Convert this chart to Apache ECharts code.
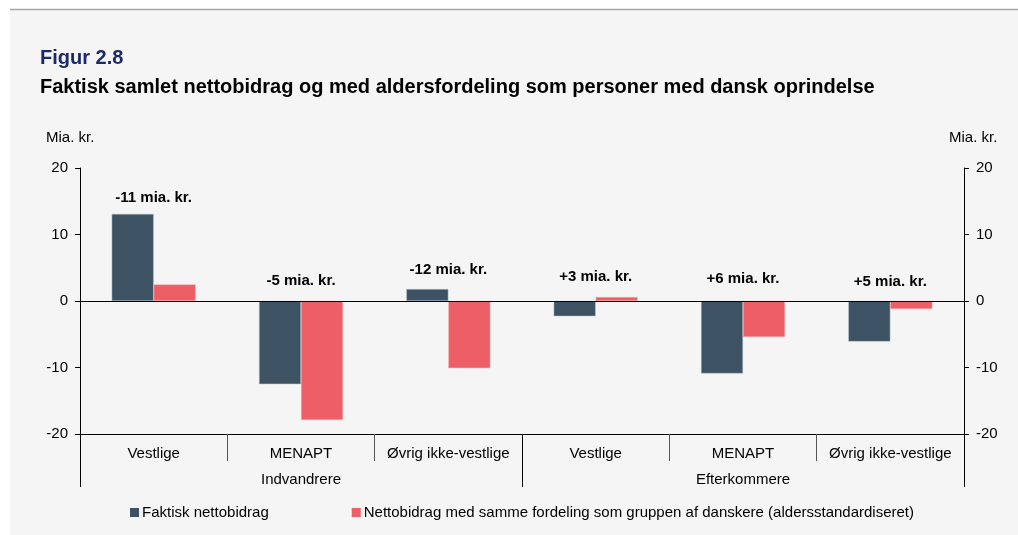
<!DOCTYPE html>
<html>
<head>
<meta charset="utf-8">
<script src="https://cdn.jsdelivr.net/npm/echarts@6/dist/echarts.min.js"></script>
<style>
html, body { margin: 0; padding: 0; background: #ffffff; }
#chart { width: 1018px; height: 535px; }
</style>
</head>
<body>
<div id="chart"></div>
<script>
// kategorier
var categories = ['Vestlige', 'MENAPT', 'Øvrig ikke-vestlige', 'Vestlige', 'MENAPT', 'Øvrig ikke-vestlige'];
var groups = ['Indvandrere', 'Efterkommere'];

// mia. kr.
var faktisk = [13.1, -12.5, 1.8, -2.3, -10.9, -6.1];
var standardiseret = [2.5, -17.9, -10.1, 0.6, -5.4, -1.2];

// tekst over grupperne og hoejden de staar i
var annText = ['-11 mia. kr.', '-5 mia. kr.', '-12 mia. kr.', '+3 mia. kr.', '+6 mia. kr.', '+5 mia. kr.'];
var annY = [15.5, 3.0, 4.7, 3.6, 3.3, 2.9];

var yTicks = { min: -20, max: 20, interval: 10 };

var font = "'Liberation Sans', Arial, sans-serif";
var chart = echarts.init(document.getElementById('chart'));

var yAxisBase = function (pos) {
  return {
    type: 'value',
    position: pos,
    min: yTicks.min,
    max: yTicks.max,
    interval: yTicks.interval,
    splitLine: { show: false },
    axisLine: { show: true, lineStyle: { color: '#000', width: 1 } },
    axisTick: { show: true, inside: false, length: 5, lineStyle: { color: '#000' } },
    axisLabel: { color: '#000', fontSize: 15, fontFamily: font, margin: 12 }
  };
};

var option = {
  backgroundColor: '#ffffff',
  animation: false,
  graphic: [
    { type: 'rect', z: -10, shape: { x: 10, y: 9, width: 1008, height: 526 }, style: { fill: '#f5f5f5' } },
    { type: 'line', shape: { x1: 10, y1: 9.5, x2: 1018, y2: 9.5 }, style: { stroke: '#a6a6a6', lineWidth: 1.5 } },
    { type: 'text', left: 40, top: 48, style: { text: 'Figur 2.8', fill: '#1b2a66', font: 'bold 20px ' + font } },
    { type: 'text', left: 40, top: 77, style: { text: 'Faktisk samlet nettobidrag og med aldersfordeling som personer med dansk oprindelse', fill: '#000', font: 'bold 20px ' + font } },
    { type: 'text', left: 46, top: 130, style: { text: 'Mia. kr.', fill: '#000', font: '15px ' + font } },
    { type: 'text', left: 949, top: 130, style: { text: 'Mia. kr.', fill: '#000', font: '15px ' + font } }
  ],
  grid: { left: 80, right: 54, top: 168, bottom: 101, containLabel: false },
  legend: {
    left: 130,
    top: 505,
    padding: 0,
    itemWidth: 9,
    itemHeight: 9,
    itemGap: 83,
    icon: 'rect',
    itemStyle: { borderWidth: 0 },
    data: ['Faktisk nettobidrag', 'Nettobidrag med samme fordeling som gruppen af danskere (aldersstandardiseret)'],
    textStyle: { color: '#000', fontSize: 15, fontFamily: font, padding: [0, 0, 0, -2] }
  },
  xAxis: [
    {
      type: 'category',
      data: categories,
      position: 'bottom',
      axisLine: { show: true, onZero: false, lineStyle: { color: '#000', width: 1 } },
      axisTick: { show: true, interval: 0, length: 27, lineStyle: { color: '#555' } },
      axisLabel: { interval: 0, color: '#000', fontSize: 15, fontFamily: font, margin: 12 }
    },
    {
      type: 'category',
      data: groups,
      position: 'bottom',
      axisLine: { show: false, onZero: false },
      axisTick: { show: true, interval: 0, length: 53, lineStyle: { color: '#000' } },
      axisLabel: { interval: 0, color: '#000', fontSize: 15, fontFamily: font, margin: 38 }
    }
  ],
  yAxis: [yAxisBase('left'), yAxisBase('right')],
  series: [
    {
      name: 'Faktisk nettobidrag',
      type: 'bar',
      data: faktisk,
      barGap: '0%',
      barCategoryGap: '43%',
      itemStyle: { color: '#3d5263', borderColor: '#b9c2ca', borderWidth: 0.5 },
      markLine: {
        silent: true,
        symbol: 'none',
        label: { show: false },
        lineStyle: { color: '#000', type: 'solid', width: 1 },
        data: [{ yAxis: 0 }]
      }
    },
    {
      name: 'Nettobidrag med samme fordeling som gruppen af danskere (aldersstandardiseret)',
      type: 'bar',
      data: standardiseret,
      itemStyle: { color: '#ee5e67', borderColor: '#f7b5b9', borderWidth: 0.5 }
    },
    {
      name: 'ann',
      type: 'scatter',
      symbolSize: 1,
      itemStyle: { color: 'rgba(0,0,0,0)', opacity: 1 },
      silent: true,
      z: 5,
      data: annY.map(function (v, i) { return [i, v]; }),
      label: {
        show: true,
        position: 'top',
        distance: -8,
        color: '#000',
        opacity: 1,
        textBorderWidth: 0,
        fontSize: 15,
        fontWeight: 'bold',
        fontFamily: font,
        formatter: function (p) { return annText[p.dataIndex]; }
      }
    }
  ]
};

chart.setOption(option);
</script>
</body>
</html>
